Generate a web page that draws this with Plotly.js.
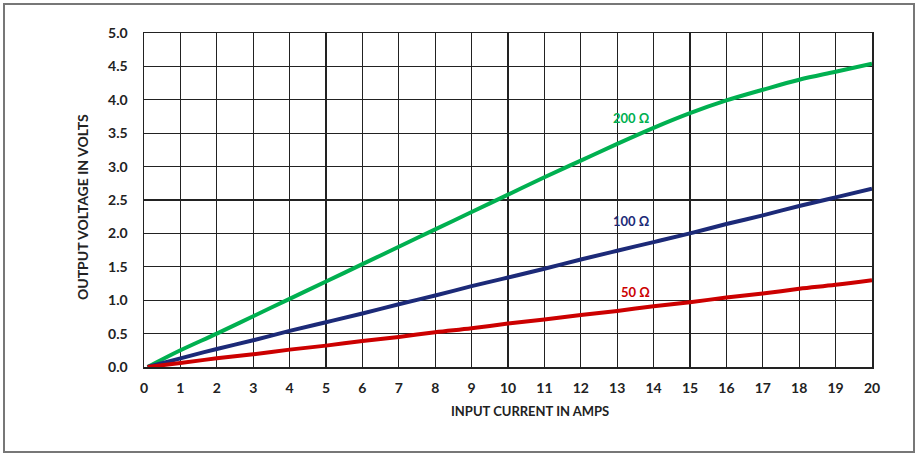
<!DOCTYPE html>
<html><head><meta charset="utf-8">
<script src="https://cdn.plot.ly/plotly-3.0.1.min.js"></script>
<style>html,body{margin:0;padding:0;background:#fff}#wrap{position:absolute;left:3px;top:3px;width:912px;height:450px;border:2px solid #777;box-sizing:border-box}#chart{position:absolute;left:0;top:0;width:918px;height:455px}</style>
</head><body><div id="chart"></div><div id="wrap"></div>
<script>
const currentAmps = [0.1, 1, 2, 3, 4, 5, 6, 7, 8, 9, 10, 11, 12, 13, 14, 15, 16, 17, 18, 19, 20];
const volts200 = [0, 0.25, 0.5, 0.76, 1.02, 1.28, 1.54, 1.8, 2.06, 2.32, 2.58, 2.84, 3.09, 3.34, 3.58, 3.8, 3.99, 4.15, 4.3, 4.42, 4.54];
const volts100 = [0, 0.13, 0.27, 0.4, 0.54, 0.67, 0.8, 0.94, 1.07, 1.21, 1.34, 1.47, 1.61, 1.74, 1.87, 2.0, 2.14, 2.27, 2.41, 2.54, 2.67];
const volts50 = [0, 0.06, 0.13, 0.19, 0.26, 0.32, 0.39, 0.45, 0.52, 0.58, 0.65, 0.71, 0.78, 0.84, 0.91, 0.97, 1.04, 1.1, 1.17, 1.23, 1.3];
const seriesNames = ['200 Ω', '100 Ω', '50 Ω'];
const seriesColors = ['#00B050', '#1C2A78', '#CC0000'];
const labelPos = [[13.4, 3.73], [13.4, 2.18], [13.5, 1.12]];
const xTicks = [0,1,2,3,4,5,6,7,8,9,10,11,12,13,14,15,16,17,18,19,20];
const yTicks = [0,0.5,1,1.5,2,2.5,3,3.5,4,4.5,5];
const font = 'Lato, "Open Sans", sans-serif';
const ys = [volts200, volts100, volts50];
const traces = ys.map((y,i)=>({x: currentAmps, y: y, type:'scatter', mode:'lines', line:{color:seriesColors[i], width:4, shape:'spline'}, name:seriesNames[i], hoverinfo:'skip'}));
const annotations = seriesNames.map((n,i)=>({x:labelPos[i][0], y:labelPos[i][1], text:'<b>'+n+'</b>', showarrow:false, font:{family:font, size:13, color:seriesColors[i]}, xanchor:'center', yanchor:'middle'}));
annotations.push({xref:'paper', yref:'paper', x:(530-144)/(872-144), y:-(411-367)/(367-33), text:'<b>INPUT CURRENT IN AMPS</b>', showarrow:false, font:{family:font, size:13, color:'#222'}, xanchor:'center', yanchor:'middle'});
annotations.push({xref:'paper', yref:'paper', x:-(144-82)/(872-144), y:(367-207)/(367-33), text:'<b>OUTPUT VOLTAGE IN VOLTS</b>', textangle:-90, showarrow:false, font:{family:font, size:14, color:'#222'}, xanchor:'center', yanchor:'middle'});
const layout = {
  width:918, height:455, showlegend:false,
  margin:{l:144, r:46, t:33, b:88},
  paper_bgcolor:'#fff', plot_bgcolor:'#fff',
  xaxis:{range:[0,20], tickvals:xTicks, ticktext:xTicks.map(v=>'<b>'+v+'</b>'), showgrid:true, gridcolor:'#222', gridwidth:1.3, zeroline:false, showline:true, linecolor:'#222', linewidth:1.5, mirror:true, ticks:'', tickfont:{family:font, size:14, color:'#222'}, ticklabelstandoff:8},
  yaxis:{range:[0,5], tickvals:yTicks, ticktext:yTicks.map(v=>'<b>'+v.toFixed(1)+'</b>'), showgrid:true, gridcolor:'#222', gridwidth:1.3, zeroline:false, showline:true, linecolor:'#222', linewidth:1.5, mirror:true, ticks:'', tickfont:{family:font, size:14, color:'#222'}, ticklabelstandoff:12},
  annotations: annotations
};
Plotly.newPlot('chart', traces, layout, {displayModeBar:false, staticPlot:true});
</script></body></html>
